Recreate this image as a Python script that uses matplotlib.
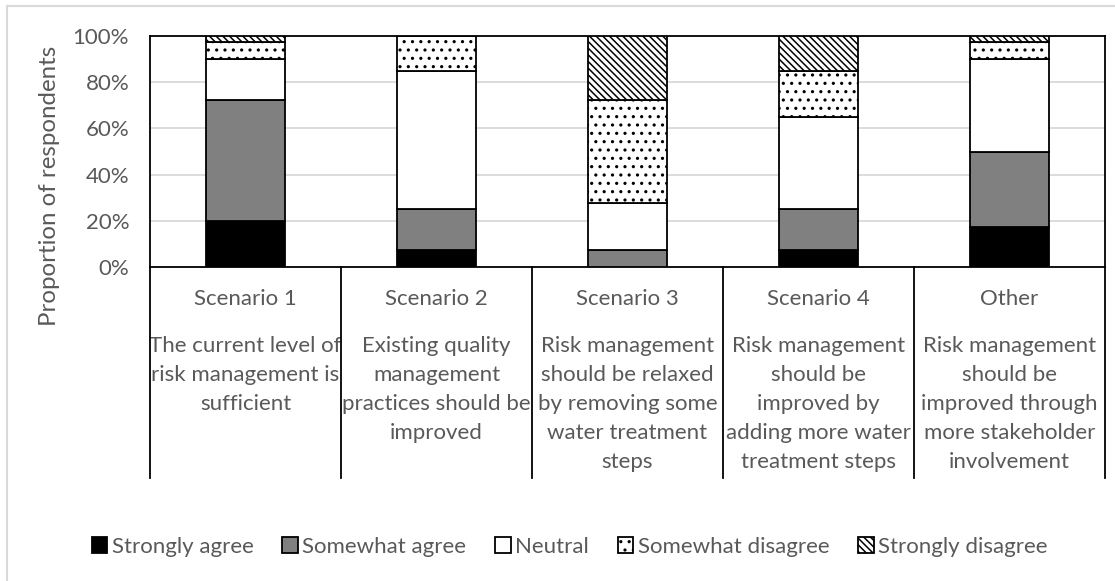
import numpy as np
import matplotlib
matplotlib.use('Agg')
import matplotlib.pyplot as plt
from matplotlib.patches import Rectangle
from matplotlib.lines import Line2D

plt.rcParams['font.family'] = ['Lato', 'DejaVu Sans']
plt.rcParams['hatch.linewidth'] = 1.1

# ── Data (share of respondents) ───────────────────────────────────────────────
scenarios = ['Scenario 1', 'Scenario 2', 'Scenario 3', 'Scenario 4', 'Other']
descriptions = [
    'The current level of\nrisk management is\nsufficient',
    'Existing quality\nmanagement\npractices should be\nimproved',
    'Risk management\nshould be relaxed\nby removing some\nwater treatment\nsteps',
    'Risk management\nshould be\nimproved by\nadding more water\ntreatment steps',
    'Risk management\nshould be\nimproved through\nmore stakeholder\ninvolvement',
]
responses = ['Strongly agree', 'Somewhat agree', 'Neutral',
             'Somewhat disagree', 'Strongly disagree']
strongly_agree    = [0.200, 0.075, 0.000, 0.075, 0.175]
somewhat_agree    = [0.525, 0.175, 0.075, 0.175, 0.325]
neutral           = [0.175, 0.600, 0.200, 0.400, 0.400]
somewhat_disagree = [0.075, 0.150, 0.450, 0.200, 0.075]
strongly_disagree = [0.025, 0.000, 0.275, 0.150, 0.025]
y_ticks = [0, 0.2, 0.4, 0.6, 0.8, 1.0]

series = [strongly_agree, somewhat_agree, neutral, somewhat_disagree, strongly_disagree]
faces   = ['black', '#808080', 'white', 'white', 'white']
BS = chr(92)  # backslash
hatches = [None, None, None, '..', BS * 5]

TXT = '#595959'
FS = 16

fig = plt.figure(figsize=(11.15, 5.81), dpi=100)
ax = fig.add_axes([150 / 1115, 1 - 267 / 581, 955 / 1115, 231 / 581])

x = np.arange(len(scenarios))
bottom = np.zeros(len(scenarios))
handles = []
for vals, fc, h, lab in zip(series, faces, hatches, responses):
    ax.bar(x, vals, width=0.41, bottom=bottom, color=fc, edgecolor='black',
           linewidth=1.3, hatch=h, label=lab, zorder=3)
    handles.append(Rectangle((0, 0), 1, 1, facecolor=fc, edgecolor='black',
                             linewidth=1.3, hatch=h))
    bottom += np.array(vals)

ax.set_xlim(-0.5, len(scenarios) - 0.5)
ax.set_ylim(0, 1)
ax.set_yticks(y_ticks)
ax.set_yticklabels([f'{int(round(v * 100))}%' for v in y_ticks], color=TXT, fontsize=FS)
ax.tick_params(axis='y', length=0, pad=15)
ax.set_xticks([])
ax.yaxis.grid(True, color='#d9d9d9', linewidth=1.3, zorder=0)
ax.set_axisbelow(True)
for sp in ax.spines.values():
    sp.set_color('black')
    sp.set_linewidth(1.3)

fig.text(50 / 1115, 1 - 186 / 581, 'Proportion of respondents', rotation=90,
         ha='center', va='center', color=TXT, fontsize=17.3)

# category-axis table below the plot
trans = ax.get_xaxis_transform()
y_end = -(478 - 267) / 231
for b in np.arange(-0.5, len(scenarios), 1.0):
    ax.plot([b, b], [0, y_end], transform=trans, color='black', lw=1.3,
            clip_on=False, zorder=5)
for i, (s, d) in enumerate(zip(scenarios, descriptions)):
    ax.text(i, -(299 - 267) / 231, s, transform=trans, ha='center', va='center',
            color=TXT, fontsize=FS)
    ax.text(i, -(336 - 267) / 231, d, transform=trans, ha='center', va='top',
            color=TXT, fontsize=FS, linespacing=1.57)

fig.legend(handles, responses, loc='center', bbox_to_anchor=(0.511, 1 - 547 / 581),
           ncol=5, frameon=False, fontsize=FS, handlelength=0.7, handleheight=0.7,
           handletextpad=0.2, columnspacing=1.3, labelcolor=TXT)

# light chart-area frame
fig.add_artist(Line2D([7 / 1115, 7 / 1115], [0, 1 - 6 / 581], color='#d9d9d9', lw=1.5))
fig.add_artist(Line2D([7 / 1115, 1], [1 - 6 / 581, 1 - 6 / 581], color='#d9d9d9', lw=1.5))

fig.savefig('out.png', dpi=100)
